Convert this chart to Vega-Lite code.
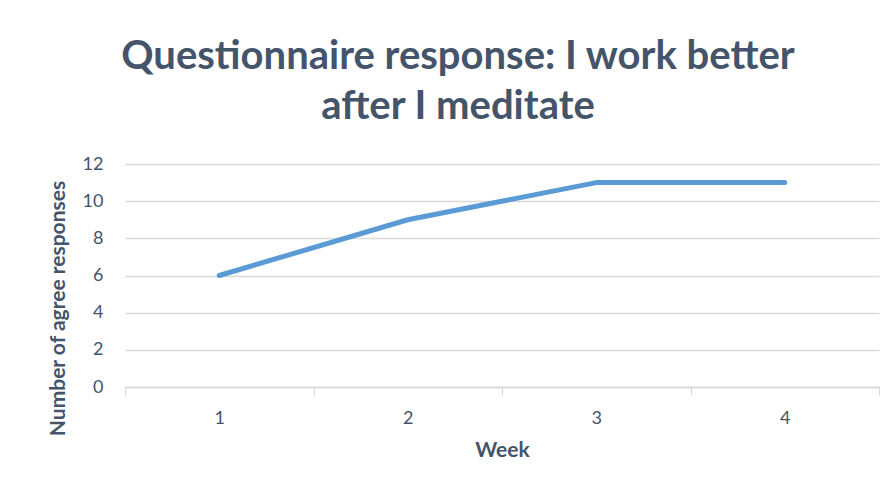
{
  "$schema": "https://vega.github.io/schema/vega-lite/v6.json",
  "autosize": "none",
  "width": 754,
  "height": 223,
  "padding": {"left": 125, "top": 164, "right": 16, "bottom": 108},
  "background": "white",
  "title": {
    "text": ["Questionnaire response: I work better", "after I meditate"],
    "font": "Lato",
    "fontSize": 40,
    "fontWeight": "bold",
    "color": "#44546A",
    "anchor": "middle",
    "frame": "group",
    "dx": -44,
    "lineHeight": 50,
    "offset": 28
  },
  "data": {
    "values": [
      {"week": "1", "responses": 6},
      {"week": "2", "responses": 9},
      {"week": "3", "responses": 11},
      {"week": "4", "responses": 11}
    ]
  },
  "mark": {"type": "line", "color": "#5B9BD5", "strokeWidth": 5, "strokeCap": "round", "strokeJoin": "round"},
  "encoding": {
    "x": {
      "field": "week",
      "type": "ordinal",
      "scale": {"type": "band", "paddingInner": 0, "paddingOuter": 0},
      "axis": {
        "title": "Week",
        "labelAngle": 0,
        "tickBand": "extent",
        "tickSize": 8,
        "tickColor": "#D9D9D9",
        "domainColor": "#D9D9D9",
        "domainWidth": 1.5,
        "labelFont": "Lato",
        "labelFontSize": 18,
        "labelColor": "#44546A",
        "labelPadding": 14,
        "titleFont": "Lato",
        "titleFontSize": 21,
        "titleFontWeight": "bold",
        "titleColor": "#44546A",
        "titlePadding": 12
      }
    },
    "y": {
      "field": "responses",
      "type": "quantitative",
      "scale": {"domain": [0, 12]},
      "axis": {
        "title": "Number of agree responses",
        "values": [0, 2, 4, 6, 8, 10, 12],
        "domain": false,
        "ticks": false,
        "gridColor": "#D9D9D9",
        "gridWidth": 1.5,
        "labelFont": "Lato",
        "labelFontSize": 18,
        "labelColor": "#44546A",
        "labelPadding": 22,
        "titleFont": "Lato",
        "titleFontSize": 21,
        "titleFontWeight": "bold",
        "titleColor": "#44546A",
        "titleX": -67,
        "titleY": 144,
        "titleAngle": -90,
        "titleBaseline": "middle",
        "titleAlign": "center"
      }
    }
  },
  "config": {"view": {"stroke": null}}
}
